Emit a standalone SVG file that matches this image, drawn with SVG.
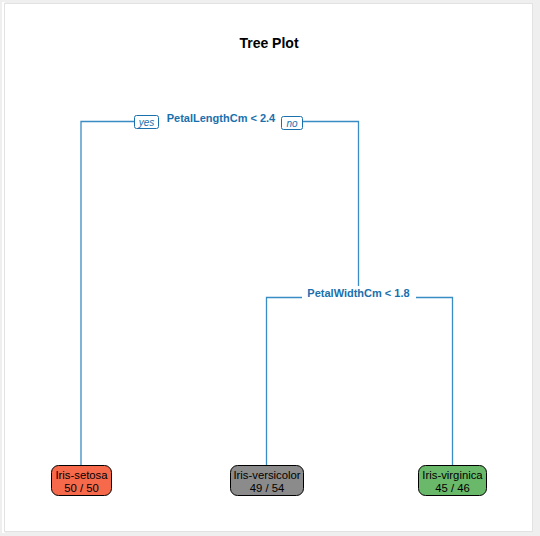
<svg xmlns="http://www.w3.org/2000/svg" width="540" height="536" viewBox="0 0 540 536">
<style>
.edge{fill:none;stroke:#3a8cc4;stroke-width:1.3}
.split{font-family:"Liberation Sans",Arial,sans-serif;font-size:11px;font-weight:bold;fill:#1a70ad;text-anchor:middle}
.lab{font-family:"Liberation Sans",Arial,sans-serif;font-size:10px;font-style:italic;fill:#1a70ad;text-anchor:middle}
.labbox{fill:#fff;stroke:#1a70ad;stroke-width:1}
.leaf rect{stroke:#000;stroke-width:1}
.leaf text{font-family:"Liberation Sans",Arial,sans-serif;font-size:11.3px;fill:#000;text-anchor:middle}
.title{font-family:"Liberation Sans",Arial,sans-serif;font-size:14px;font-weight:bold;fill:#000;text-anchor:middle}
</style>
<rect x="0" y="0" width="540" height="536" fill="#efefef"/>
<rect x="2" y="2" width="3" height="531" fill="#fff"/>
<rect x="4.5" y="3.5" width="528" height="528" fill="#fff" stroke="#e2e2e2" stroke-width="1"/>
<text class="title" x="269" y="48">Tree Plot</text>
<g id="connectors">
<path class="edge" d="M81,465 V121.5 H134 M302,121.5 H358.5 V286 M302,297.5 H266.5 V465 M416,297.5 H452.5 V465"/>
<g id="yes-label"><rect class="labbox" x="134.5" y="115.5" width="24" height="13" rx="2"/><text class="lab" x="146.5" y="125.5">yes</text></g>
<g id="no-label"><rect class="labbox" x="281.5" y="116.5" width="21" height="13" rx="2"/><text class="lab" x="292" y="126.5">no</text></g>
</g>
<g id="split1"><text class="split" x="221" y="122">PetalLengthCm &lt; 2.4</text></g>
<g id="split2"><text class="split" x="358.5" y="297">PetalWidthCm &lt; 1.8</text></g>
<g id="leaf-setosa" class="leaf"><rect x="51.5" y="465.5" width="60" height="30" rx="7" fill="#f6694a"/><text x="81.5" y="479">Iris-setosa</text><text x="81.5" y="492">50 / 50</text></g>
<g id="leaf-versicolor" class="leaf"><rect x="230.5" y="465.5" width="73" height="30" rx="7" fill="#8b8b8b"/><text x="267" y="479">Iris-versicolor</text><text x="267" y="492">49 / 54</text></g>
<g id="leaf-virginica" class="leaf"><rect x="418.5" y="465.5" width="68" height="30" rx="7" fill="#6ab86a"/><text x="452.5" y="479">Iris-virginica</text><text x="452.5" y="492">45 / 46</text></g>
</svg>
